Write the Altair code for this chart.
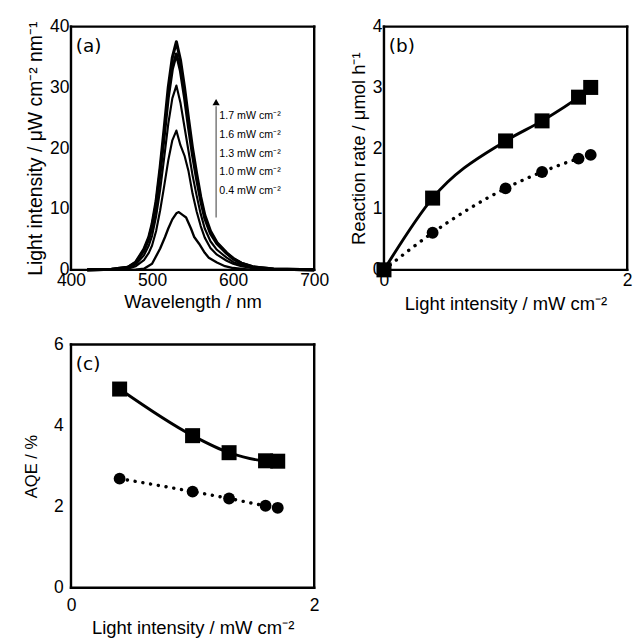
import altair as alt
import pandas as pd

# ---------------- data ----------------
# (a) emission spectra of the light source at five intensities
wl_big = [420, 450, 470, 480, 490, 496, 500, 505, 510, 515, 520, 525, 530, 535,
          540, 545, 550, 555, 560, 565, 572, 580, 592, 600, 610, 624, 650, 700]
spec_17 = [0, 0.1, 0.4, 1.3, 3.4, 5.4, 7.5, 11.3, 16.9, 23.3, 30.0, 34.9, 37.5, 34.5,
           30.0, 24.8, 19.9, 15.8, 12.0, 9.0, 6.4, 4.5, 2.8, 1.9, 1.1, 0.5, 0.15, 0]
spec_16 = [0, 0.1, 0.4, 1.2, 3.2, 5.1, 7.1, 10.7, 16.0, 22.0, 28.4, 33.0, 35.5, 32.7,
           28.4, 23.4, 18.8, 14.9, 11.4, 8.5, 6.0, 4.3, 2.7, 1.8, 1.1, 0.5, 0.14, 0]
spec_13 = [0, 0.1, 0.3, 0.9, 2.4, 4.0, 5.6, 8.8, 13.2, 18.5, 24.0, 28.2, 30.3, 27.5,
           23.5, 19.5, 15.5, 12.2, 9.2, 6.8, 4.7, 3.3, 2.0, 1.3, 0.8, 0.35, 0.1, 0]
spec_10 = [0, 0.05, 0.2, 0.6, 1.6, 2.8, 4.0, 6.4, 9.8, 13.8, 18.0, 21.3, 22.9, 20.5,
           18.8, 16.2, 12.5, 9.6, 7.2, 5.3, 3.6, 2.5, 1.5, 1.0, 0.6, 0.25, 0.08, 0]
wl_small = [420, 480, 490, 500, 510, 516, 520, 525, 530, 533, 538, 542, 548, 552,
            558, 565, 570, 580, 590, 600, 620, 650, 700]
spec_04 = [0, 0.05, 0.2, 1.0, 3.5, 5.4, 6.8, 8.3, 9.3, 9.5, 9.0, 8.6, 6.8, 5.4,
           4.3, 2.8, 2.0, 1.2, 0.6, 0.3, 0.05, 0, 0]

legend_labels = ["1.7 mW cm⁻²", "1.6 mW cm⁻²", "1.3 mW cm⁻²", "1.0 mW cm⁻²", "0.4 mW cm⁻²"]
legend_y = [25.3, 22.1, 19.0, 16.0, 13.0]

# (b) reaction rate vs light intensity
rate_x = [0, 0.4, 1.0, 1.3, 1.6, 1.7]
rate_sq = [0, 1.18, 2.12, 2.45, 2.84, 3.0]
rate_ci = [0, 0.61, 1.34, 1.61, 1.83, 1.89]

# (c) AQE vs light intensity
aqe_x = [0.4, 1.0, 1.3, 1.6, 1.7]
aqe_sq = [4.9, 3.75, 3.33, 3.13, 3.12]
aqe_ci = [2.69, 2.37, 2.2, 2.02, 1.97]

# ---------------- build tables ----------------
rows = []
for name, wls, vals, w in [("1.7", wl_big, spec_17, 3.2), ("1.6", wl_big, spec_16, 3.2),
                           ("1.3", wl_big, spec_13, 2.2), ("1.0", wl_big, spec_10, 2.2),
                           ("0.4", wl_small, spec_04, 2.4)]:
    for i, (a, b) in enumerate(zip(wls, vals)):
        rows.append({"series": name, "wl": a, "val": b, "order": i, "w": w})
spec_df = pd.DataFrame(rows)
leg_df = pd.DataFrame({"label": legend_labels, "y": legend_y, "x": [583] * 5})
arrow_df = pd.DataFrame({"x": [579], "y": [8.6], "y2": [26.9]})
head_df = pd.DataFrame({"x": [579], "y": [27.6]})

rate_df = pd.DataFrame({"x": rate_x, "sq": rate_sq, "ci": rate_ci})
aqe_df = pd.DataFrame({"x": aqe_x, "sq": aqe_sq, "ci": aqe_ci})

FONT = "Arial, Liberation Sans, sans-serif"
W, H = 251, 251

def ax(title, values, fmt=None, tsize=19, lpad=2, tpad=4):
    kw = dict(title=title, values=values, grid=False, domain=False, ticks=False,
              labelFontSize=18, labelFont=FONT, titleFont=FONT, titleFontSize=tsize,
              titleFontWeight="normal", labelColor="black", titleColor="black",
              labelPadding=lpad, titlePadding=tpad, labelFlush=False)
    if fmt:
        kw["format"] = fmt
    return alt.Axis(**kw)

def panel_label(txt):
    return alt.Chart(pd.DataFrame({"t": [txt]})).mark_text(
        align="left", baseline="middle", font="DejaVu Sans", fontSize=19, color="black"
    ).encode(x=alt.value(5), y=alt.value(20), text="t:N")

_one = pd.DataFrame({"f": [0]})

def frame():
    rule = dict(color="black", strokeWidth=2.5, strokeCap="square")
    return [
        alt.Chart(_one).mark_rule(**rule).encode(x=alt.value(0), x2=alt.value(W), y=alt.value(0)),
        alt.Chart(_one).mark_rule(**rule).encode(x=alt.value(0), x2=alt.value(W), y=alt.value(H)),
        alt.Chart(_one).mark_rule(**rule).encode(x=alt.value(0), y=alt.value(0), y2=alt.value(H)),
        alt.Chart(_one).mark_rule(**rule).encode(x=alt.value(W), y=alt.value(0), y2=alt.value(H)),
    ]

# ---------------- panel (a) ----------------
xa = alt.X("wl:Q", scale=alt.Scale(domain=[400, 700], nice=False),
           axis=ax("Wavelength / nm", [400, 500, 600, 700]))
ya = alt.Y("val:Q", scale=alt.Scale(domain=[0, 40], nice=False),
           axis=ax("Light intensity / μW cm⁻² nm⁻¹", [0, 10, 20, 30, 40], tsize=20))

spec = alt.Chart(spec_df).mark_line(color="black", strokeJoin="round").encode(
    x=xa, y=ya, detail="series:N", order="order:Q",
    strokeWidth=alt.StrokeWidth("w:Q", scale=None, legend=None))
arrow = alt.Chart(arrow_df).mark_rule(color="#555555", strokeWidth=1.2).encode(
    x="x:Q", y="y:Q", y2="y2:Q")
head = alt.Chart(head_df).mark_point(shape="triangle-up", filled=True, color="black",
                                     size=55, opacity=1).encode(x="x:Q", y="y:Q")
leg = alt.Chart(leg_df).mark_text(align="left", baseline="middle", font=FONT,
                                  fontSize=11, color="black").encode(
    x="x:Q", y="y:Q", text="label:N")
pa = alt.layer(spec, arrow, head, leg, panel_label("(a)"), *frame()).properties(
    width=W, height=H)

# ---------------- panel (b) ----------------
xb = alt.X("x:Q", scale=alt.Scale(domain=[0, 2], nice=False),
           axis=ax("Light intensity / mW cm⁻²", [0, 1, 2], "d", tpad=6))
yb_sq = alt.Y("sq:Q", scale=alt.Scale(domain=[0, 4], nice=False),
              axis=ax("Reaction rate / μmol h⁻¹", [0, 1, 2, 3, 4], "d"))
yb_ci = alt.Y("ci:Q")
base_b = alt.Chart(rate_df)
pb = alt.layer(
    base_b.mark_line(color="black", strokeWidth=3, interpolate="monotone").encode(x=xb, y=yb_sq),
    base_b.mark_line(color="black", strokeWidth=3.5, strokeDash=[0.1, 8], strokeCap="round",
                     interpolate="monotone").encode(x=xb, y=yb_ci),
    base_b.mark_point(shape="circle", filled=True, color="black", size=150, opacity=1).encode(x=xb, y=yb_ci),
    base_b.mark_point(shape="square", filled=True, color="black", size=240, opacity=1).encode(x=xb, y=yb_sq),
    panel_label("(b)"),
    *frame(),
).properties(width=W, height=H)

# ---------------- panel (c) ----------------
xc = alt.X("x:Q", scale=alt.Scale(domain=[0, 2], nice=False),
           axis=ax("Light intensity / mW cm⁻²", [0, 1, 2], "d", lpad=10, tpad=4))
yc_sq = alt.Y("sq:Q", scale=alt.Scale(domain=[0, 6], nice=False),
              axis=ax("AQE / %", [0, 2, 4, 6], "d", tsize=17, lpad=8, tpad=14))
yc_ci = alt.Y("ci:Q")
base_c = alt.Chart(aqe_df)
pc = alt.layer(
    base_c.mark_line(color="black", strokeWidth=3, interpolate="monotone").encode(x=xc, y=yc_sq),
    base_c.mark_line(color="black", strokeWidth=3.5, strokeDash=[0.1, 8], strokeCap="round",
                     interpolate="monotone").encode(x=xc, y=yc_ci),
    base_c.mark_point(shape="circle", filled=True, color="black", size=150, opacity=1).encode(x=xc, y=yc_ci),
    base_c.mark_point(shape="square", filled=True, color="black", size=240, opacity=1).encode(x=xc, y=yc_sq),
    panel_label("(c)"),
    *frame(),
).properties(width=W, height=H)

chart = alt.concat(pa, pb, pc, columns=2,
                   spacing=alt.RowColnumber(row=23, column=20)).configure(
    background="white",
    padding={"left": 14, "top": 0, "right": 0, "bottom": 0},
    view=alt.ViewConfig(stroke=None),
)

chart.save("out.html", embed_options={"renderer": "svg", "actions": False})
